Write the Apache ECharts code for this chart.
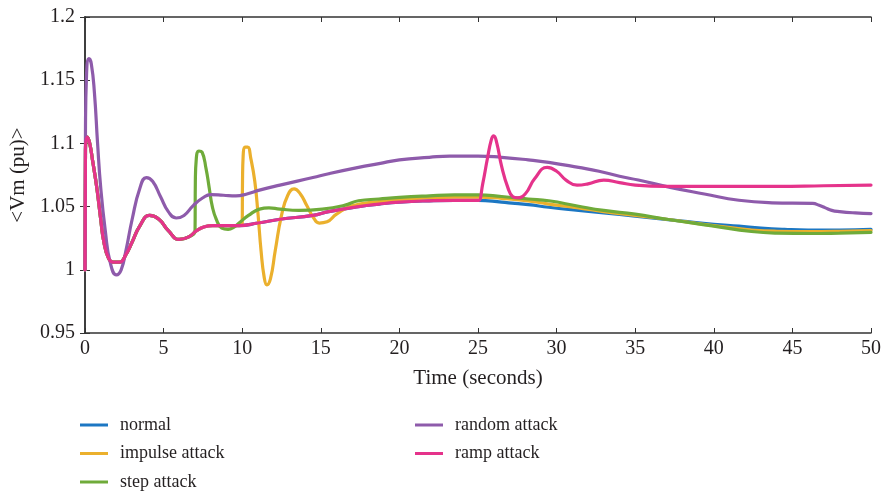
<!DOCTYPE html>
<html>
<head>
<meta charset="utf-8">
<script src="https://cdn.jsdelivr.net/npm/echarts@6/dist/echarts.min.js"></script>
<style>html,body{margin:0;padding:0;background:#fff}#c{width:884px;height:496px}</style>
</head>
<body>
<div id="c"></div>
<script>
// Common pre-attack trajectory (normal system), t in seconds, Vm in pu
const baseT = [0, 0.03, 0.15, 0.3, 0.5, 0.75, 1.0, 1.2, 1.5, 1.8, 2.2, 2.6, 3.0, 3.5, 4.1, 4.7, 5.3, 6.0, 6.6, 7.1, 7.6, 8.1, 9.0, 9.8, 11.0, 12.4, 14.5, 15.5, 17.4, 18.7, 20, 21.9, 23.5, 25.0];
const baseV = [1.0, 1.095, 1.105, 1.1, 1.085, 1.065, 1.04, 1.022, 1.009, 1.006, 1.006, 1.012, 1.022, 1.035, 1.043, 1.04, 1.031, 1.024, 1.026, 1.031, 1.034, 1.035, 1.035, 1.035, 1.037, 1.040, 1.043, 1.046, 1.050, 1.052, 1.0535, 1.0546, 1.055, 1.055];

// normal: after t = 25
const normalT = [26.5, 28.2, 29.5, 31.4, 33, 35, 36.5, 38, 40, 41.6, 43, 44.5, 46, 48, 50];
const normalV = [1.0535, 1.0515, 1.0495, 1.047, 1.045, 1.0425, 1.0405, 1.0385, 1.036, 1.0345, 1.033, 1.032, 1.0315, 1.0315, 1.032];

// impulse attack: from t = 10
const impulseT = [10.0, 10.02, 10.06, 10.2, 10.35, 10.55, 10.8, 11.0, 11.2, 11.4, 11.57, 11.8, 12.1, 12.5, 12.9, 13.3, 13.7, 14.1, 14.5, 14.9, 15.4, 16.0, 17.0, 18.7, 20, 21.9, 23.5, 25, 26.5, 28.2, 29.5, 31.4, 33, 35, 37, 40, 42.4, 44, 46, 48, 50];
const impulseV = [1.036, 1.07, 1.09, 1.097, 1.097, 1.088, 1.07, 1.045, 1.015, 0.994, 0.988, 0.993, 1.015, 1.043, 1.059, 1.064, 1.06, 1.051, 1.042, 1.037, 1.038, 1.044, 1.0506, 1.054, 1.0555, 1.057, 1.0575, 1.0575, 1.0565, 1.0545, 1.052, 1.049, 1.046, 1.043, 1.04, 1.035, 1.0315, 1.0305, 1.0303, 1.0305, 1.031];

// step attack: from t = 7
const stepT = [7.0, 7.02, 7.08, 7.25, 7.45, 7.7, 7.9, 8.1, 8.35, 8.7, 9.1, 9.5, 9.84, 10.4, 11.1, 11.7, 12.4, 13.6, 15.1, 16.5, 17.4, 18.7, 20, 21.9, 23.5, 25, 26.5, 28.2, 29.5, 31.4, 33, 35, 37, 39.9, 42.4, 44, 46.2, 48, 50];
const stepV = [1.031, 1.07, 1.088, 1.094, 1.093, 1.08, 1.065, 1.05, 1.04, 1.033, 1.032, 1.034, 1.0375, 1.043, 1.048, 1.049, 1.048, 1.047, 1.048, 1.051, 1.0546, 1.056, 1.0573, 1.0585, 1.0592, 1.0593, 1.058, 1.056, 1.0546, 1.0503, 1.047, 1.044, 1.04, 1.0348, 1.0303, 1.029, 1.0287, 1.029, 1.0296];

// random attack: whole run
const randomT = [0, 0.03, 0.1, 0.25, 0.4, 0.6, 0.8, 1.0, 1.3, 1.6, 2.0, 2.3, 2.6, 3.0, 3.5, 3.9, 4.3, 4.8, 5.3, 5.8, 6.3, 6.9, 7.5, 8.0, 8.8, 9.6, 10.3, 11.1, 12.4, 14.5, 15.5, 17.4, 18.7, 20, 21.9, 23.2, 25, 26.5, 28.2, 29.5, 31.4, 32.7, 34, 35.2, 37.3, 39.4, 41.6, 43.7, 46.3, 46.7, 47.1, 47.5, 48, 49, 50];
const randomV = [1.0, 1.11, 1.155, 1.167, 1.163, 1.14, 1.1, 1.065, 1.03, 1.006, 0.996, 1.0, 1.015, 1.04, 1.065, 1.073, 1.07, 1.058, 1.046, 1.041, 1.043, 1.051, 1.057, 1.0595, 1.059, 1.0585, 1.06, 1.063, 1.067, 1.073, 1.076, 1.081, 1.084, 1.087, 1.089, 1.09, 1.09, 1.089, 1.087, 1.085, 1.081, 1.078, 1.074, 1.071, 1.065, 1.06, 1.055, 1.053, 1.0525, 1.051, 1.049, 1.047, 1.046, 1.045, 1.0445];

// ramp attack: after t = 25
const rampT = [25.06, 25.3, 25.6, 25.85, 26.0, 26.2, 26.5, 26.9, 27.2, 27.5, 28.0, 28.6, 29.4, 30.0, 30.6, 31.3, 32.0, 33.0, 34.0, 35.0, 37, 40, 44, 47, 50];
const rampV = [1.055, 1.068, 1.088, 1.103, 1.106, 1.1, 1.082, 1.065, 1.058, 1.057, 1.06, 1.072, 1.081, 1.078, 1.071, 1.067, 1.068, 1.071, 1.069, 1.067, 1.066, 1.066, 1.066, 1.0665, 1.067];

const xTicks = [0, 5, 10, 15, 20, 25, 30, 35, 40, 45, 50];
const yTicks = [0.95, 1, 1.05, 1.1, 1.15, 1.2];

const seriesNames = ['normal', 'impulse attack', 'step attack', 'random attack', 'ramp attack'];
const seriesColors = ['#1c77c3', '#ebb02d', '#6fab3a', '#8e5bab', '#e5338b'];

function pairs(ts, vs) { return ts.map((t, i) => [t, vs[i]]); }
function baseBefore(t0) { return pairs(baseT, baseV).filter(p => p[0] < t0); }

const dataSets = [
  baseBefore(25.01).concat(pairs(normalT, normalV)),
  baseBefore(10).concat(pairs(impulseT, impulseV)),
  baseBefore(7).concat(pairs(stepT, stepV)),
  pairs(randomT, randomV),
  baseBefore(25.01).concat(pairs(rampT, rampV))
];

const FONT = 'Liberation Serif';
const TXT = '#231f20';
const AX = '#333333';

const legendText = {fontFamily: FONT, fontSize: 18, color: TXT, lineHeight: 18, padding: [0, 0, 0, 7]};

const chart = echarts.init(document.getElementById('c'), null, {renderer: 'canvas'});
chart.setOption({
  animation: false,
  backgroundColor: '#ffffff',
  grid: {left: 85, right: 11, top: 17, bottom: 163, containLabel: false},
  legend: [
    {data: seriesNames.slice(0, 3), orient: 'vertical', left: 80, top: 416, height: 80, padding: 0,
     itemWidth: 28, itemHeight: 3, itemGap: 10.5, icon: 'rect', textStyle: legendText},
    {data: seriesNames.slice(3), orient: 'vertical', left: 415, top: 416, height: 80, padding: 0,
     itemWidth: 28, itemHeight: 3, itemGap: 10.5, icon: 'rect', textStyle: legendText}
  ],
  xAxis: [
    {type: 'value', min: 0, max: 50, interval: 5, position: 'bottom',
     name: 'Time (seconds)', nameLocation: 'middle', nameGap: 35,
     nameTextStyle: {fontFamily: FONT, fontSize: 21, color: TXT},
     axisLine: {lineStyle: {color: AX, width: 1.5}},
     axisTick: {inside: true, length: 5, lineStyle: {color: AX}},
     axisLabel: {fontFamily: FONT, fontSize: 20, color: TXT, margin: 6},
     splitLine: {show: false}},
    {type: 'value', min: 0, max: 50, interval: 5, position: 'top',
     axisLine: {show: true, lineStyle: {color: AX, width: 1.5}},
     axisTick: {show: true, inside: true, length: 5, lineStyle: {color: AX}},
     axisLabel: {show: false}, splitLine: {show: false}}
  ],
  yAxis: [
    {type: 'value', min: 0.95, max: 1.2, interval: 0.05, position: 'left',
     name: '<Vm (pu)>', nameLocation: 'middle', nameGap: 45, nameRotate: 90,
     nameTextStyle: {fontFamily: FONT, fontSize: 21, color: TXT},
     axisLine: {show: true, lineStyle: {color: AX, width: 1.5}},
     axisTick: {show: true, inside: true, length: 5, lineStyle: {color: AX}},
     axisLabel: {fontFamily: FONT, fontSize: 20, color: TXT, margin: 10,
       formatter: v => String(+v.toFixed(2))},
     splitLine: {show: false}},
    {type: 'value', min: 0.95, max: 1.2, interval: 0.05, position: 'right',
     axisLine: {show: true, lineStyle: {color: AX, width: 1.5}},
     axisTick: {show: true, inside: true, length: 5, lineStyle: {color: AX}},
     axisLabel: {show: false}, splitLine: {show: false}}
  ],
  series: seriesNames.map((n, i) => ({
    name: n, type: 'line', xAxisIndex: 0, yAxisIndex: 0,
    data: dataSets[i], showSymbol: false, symbol: 'none',
    smooth: 0.5,
    color: seriesColors[i],
    lineStyle: {width: 3.2, color: seriesColors[i], join: 'round', cap: 'round'},
    z: 2 + i
  }))
});
</script>
</body>
</html>
